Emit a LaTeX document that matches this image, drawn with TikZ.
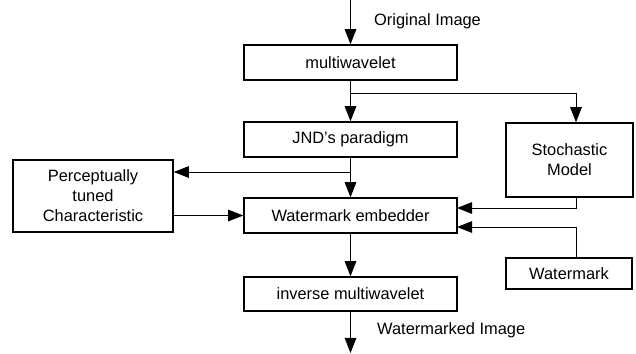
\documentclass[tikz,border=0pt]{standalone}
\usepackage{fontspec}
\setmainfont{Liberation Sans}
\usetikzlibrary{arrows.meta}

\begin{document}
\begin{tikzpicture}[x=0.03cm,y=-0.03cm,
  block/.style={draw,line width=1.3pt,rectangle,inner sep=0pt,align=center,
    font=\fontsize{14}{17}\selectfont},
  flow/.style={line width=0.8pt,-{Triangle[length=13pt,width=10pt]}},
  wire/.style={line width=0.8pt},
  lbl/.style={anchor=west,inner sep=0pt,font=\fontsize{14}{17}\selectfont}]
\useasboundingbox (0,0) rectangle (636,353);

\node [block,minimum width=213*0.03cm,minimum height=35*0.03cm] at (350.5,62.5) (mw) {multiwavelet};
\node [block,minimum width=213*0.03cm,minimum height=35*0.03cm] at (350.5,139.5) (jnd) {JND's paradigm};
\node [block,minimum width=213*0.03cm,minimum height=35*0.03cm] at (350.5,215.5) (emb) {Watermark embedder};
\node [block,minimum width=213*0.03cm,minimum height=34*0.03cm] at (350.5,294) (inv) {inverse multiwavelet};
\node [block,minimum width=160*0.03cm,minimum height=72*0.03cm] at (93,196) (pc) {Perceptually\\tuned\\Characteristic};
\node [block,minimum width=127*0.03cm,minimum height=74*0.03cm] at (569.5,160) (sm) {Stochastic\\Model};
\node [block,minimum width=126*0.03cm,minimum height=31*0.03cm] at (569,273.5) (wm) {Watermark};

\coordinate (in) at (350.5,0);
\coordinate (out) at (350.5,353);
\coordinate (b1) at (350.5,93);
\coordinate (b2) at (576,93);
\coordinate (b3) at (350.5,172);
\coordinate (e1) at (457,208);
\coordinate (e2) at (457,227);

\node [lbl] at (374,21) (orig) {Original Image};
\node [lbl] at (377,330) (marked) {Watermarked Image};

\draw [flow] (in) -- (mw);
\draw [flow] (mw) -- (jnd);
\draw [wire] (b1) -- (b2);
\draw [flow] (b2) -- (b2 |- sm.north);
\draw [flow] (jnd) -- (emb);
\draw [flow] (b3) -- (b3 -| pc.east);
\draw [flow] (pc.east |- emb.west) -- (emb.west);
\draw [flow] (b2 |- sm.south) |- (e1);
\draw [flow] (b2 |- wm.north) |- (e2);
\draw [flow] (emb) -- (inv);
\draw [flow] (inv) -- (out);

\end{tikzpicture}
\end{document}
